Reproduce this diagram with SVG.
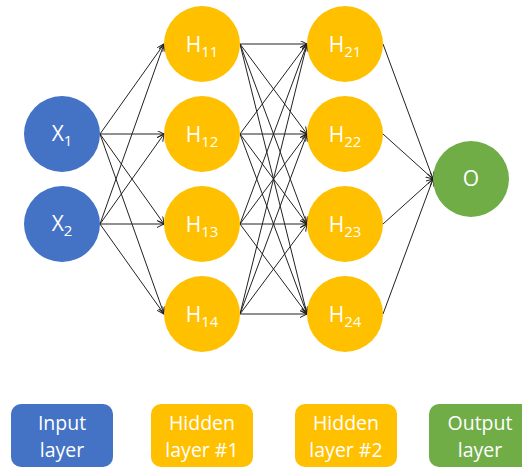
<svg xmlns="http://www.w3.org/2000/svg" width="522" height="468" viewBox="0 0 522 468">
<style>
.in{fill:#4472C4}
.hid{fill:#FFC000}
.out{fill:#70AD47}
text{font-family:"Open Sans","Liberation Sans",sans-serif;fill:#FFFFFF;text-anchor:middle}
.lbl{font-size:21px}
.sub{font-size:15px}
.box{font-size:19.5px}
.c line{stroke:#222;stroke-width:1;marker-end:url(#ah)}
</style>
<defs>
<marker id="ah" markerUnits="userSpaceOnUse" markerWidth="10" markerHeight="10" refX="7" refY="3.5" orient="auto">
<path d="M0,0 L7,3.5 L0,7" fill="none" stroke="#222" stroke-width="1"/>
</marker>
</defs>
<rect width="522" height="468" fill="#FFFFFF"/>
<g id="connectors" class="c">
<line x1="100" y1="134" x2="164" y2="44"/>
<line x1="100" y1="134" x2="164" y2="134"/>
<line x1="100" y1="134" x2="164" y2="224"/>
<line x1="100" y1="134" x2="164" y2="314"/>
<line x1="100" y1="224" x2="164" y2="44"/>
<line x1="100" y1="224" x2="164" y2="134"/>
<line x1="100" y1="224" x2="164" y2="224"/>
<line x1="100" y1="224" x2="164" y2="314"/>
<line x1="240" y1="44" x2="307" y2="44"/>
<line x1="240" y1="44" x2="307" y2="134"/>
<line x1="240" y1="44" x2="307" y2="224"/>
<line x1="240" y1="44" x2="307" y2="314"/>
<line x1="240" y1="134" x2="307" y2="44"/>
<line x1="240" y1="134" x2="307" y2="134"/>
<line x1="240" y1="134" x2="307" y2="224"/>
<line x1="240" y1="134" x2="307" y2="314"/>
<line x1="240" y1="224" x2="307" y2="44"/>
<line x1="240" y1="224" x2="307" y2="134"/>
<line x1="240" y1="224" x2="307" y2="224"/>
<line x1="240" y1="224" x2="307" y2="314"/>
<line x1="240" y1="314" x2="307" y2="44"/>
<line x1="240" y1="314" x2="307" y2="134"/>
<line x1="240" y1="314" x2="307" y2="224"/>
<line x1="240" y1="314" x2="307" y2="314"/>
<line x1="383" y1="44" x2="433" y2="179"/>
<line x1="383" y1="134" x2="433" y2="179"/>
<line x1="383" y1="224" x2="433" y2="179"/>
<line x1="383" y1="314" x2="433" y2="179"/>
</g>
<g id="X1"><circle class="in" cx="62" cy="134" r="38"/><text class="lbl" x="62" y="141">X<tspan class="sub" dy="5">1</tspan></text></g>
<g id="X2"><circle class="in" cx="62" cy="224" r="38"/><text class="lbl" x="62" y="231">X<tspan class="sub" dy="5">2</tspan></text></g>
<g id="H11"><circle class="hid" cx="202" cy="44" r="38"/><text class="lbl" x="202" y="52">H<tspan class="sub" dy="5">11</tspan></text></g>
<g id="H12"><circle class="hid" cx="202" cy="134" r="38"/><text class="lbl" x="202" y="142">H<tspan class="sub" dy="5">12</tspan></text></g>
<g id="H13"><circle class="hid" cx="202" cy="224" r="38"/><text class="lbl" x="202" y="232">H<tspan class="sub" dy="5">13</tspan></text></g>
<g id="H14"><circle class="hid" cx="202" cy="314" r="38"/><text class="lbl" x="202" y="322">H<tspan class="sub" dy="5">14</tspan></text></g>
<g id="H21"><circle class="hid" cx="345" cy="44" r="38"/><text class="lbl" x="345" y="52">H<tspan class="sub" dy="5">21</tspan></text></g>
<g id="H22"><circle class="hid" cx="345" cy="134" r="38"/><text class="lbl" x="345" y="142">H<tspan class="sub" dy="5">22</tspan></text></g>
<g id="H23"><circle class="hid" cx="345" cy="224" r="38"/><text class="lbl" x="345" y="232">H<tspan class="sub" dy="5">23</tspan></text></g>
<g id="H24"><circle class="hid" cx="345" cy="314" r="38"/><text class="lbl" x="345" y="322">H<tspan class="sub" dy="5">24</tspan></text></g>
<g id="O"><circle class="out" cx="471" cy="179" r="38"/><text class="lbl" x="471" y="186">O</text></g>
<g id="legend-input"><rect class="in" x="11" y="404" width="102" height="63" rx="10"/><text class="box" x="62" y="430">Input</text><text class="box" x="62" y="457">layer</text></g>
<g id="legend-hidden1"><rect class="hid" x="151" y="404" width="102" height="63" rx="10"/><text class="box" x="202" y="430">Hidden</text><text class="box" x="202" y="457">layer #1</text></g>
<g id="legend-hidden2"><rect class="hid" x="295" y="404" width="102" height="63" rx="10"/><text class="box" x="346" y="430">Hidden</text><text class="box" x="346" y="457">layer #2</text></g>
<g id="legend-output"><rect class="out" x="429" y="404" width="102" height="63" rx="10"/><text class="box" x="480" y="430">Output</text><text class="box" x="480" y="457">layer</text></g>
</svg>
